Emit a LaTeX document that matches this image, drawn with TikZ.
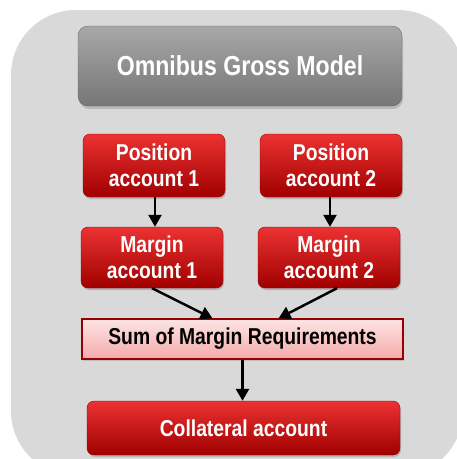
\documentclass[tikz,border=0pt]{standalone}
\usepackage{fontspec}
\setmainfont{Liberation Sans}
\newfontfamily\narrowsans[FakeStretch=0.84]{Liberation Sans}
\usetikzlibrary{calc,arrows.meta,shadows}

\definecolor{bggray}{RGB}{217,217,217}
\definecolor{graytop}{RGB}{168,168,168}
\definecolor{graybot}{RGB}{118,118,118}
\definecolor{redtop}{RGB}{236,50,50}
\definecolor{redmid}{RGB}{206,0,8}
\definecolor{redbot}{RGB}{160,0,0}
\definecolor{rededge}{RGB}{150,0,0}
\definecolor{pinktop}{RGB}{253,228,228}
\definecolor{pinkbot}{RGB}{244,170,170}

\begin{document}
\begin{tikzpicture}[
    x=1pt,y=-1pt,
    headbox/.style={draw=graybot!90!black,rounded corners=10pt,top color=graytop,bottom color=graybot,
      text=white,font=\narrowsans\bfseries\fontsize{27.5}{30}\selectfont,inner sep=0pt,
      minimum width=324pt,minimum height=80pt,
      drop shadow={shadow xshift=1pt,shadow yshift=-3pt,opacity=0.35}},
    redbox/.style={draw=rededge,rounded corners=7pt,top color=redtop,middle color=redmid,bottom color=redbot,
      text=white,font=\narrowsans\bfseries\fontsize{23}{26.5}\selectfont,align=center,inner sep=0pt,
      minimum width=142pt,minimum height=62pt,
      drop shadow={shadow xshift=1pt,shadow yshift=-2pt,opacity=0.4}},
    sumbox/.style={draw=rededge,line width=1.2pt,top color=pinktop,bottom color=pinkbot,
      text=black,font=\narrowsans\bfseries\fontsize{23}{26}\selectfont,inner sep=0pt,
      minimum width=321pt,minimum height=40pt,
      drop shadow={shadow xshift=1pt,shadow yshift=-2pt,opacity=0.3}},
    flow/.style={line width=2.5pt,-{Triangle[width=13pt,length=12pt]}},
  ]

  \useasboundingbox (0,0) rectangle (457,459);
  \clip (0,0) rectangle (457,459);

  % background panel
  \fill[bggray,rounded corners=65pt] (11,10) rectangle (463,476);

  % title
  \node (omni) at (240,66) [headbox] {Omnibus Gross Model};

  % accounts
  \node (pos1) at (154,165.5) [redbox,minimum height=63pt] {Position\\account 1};
  \node (pos2) at (331,165.5) [redbox,minimum height=63pt] {Position\\account 2};
  \node (mar1) at (152,257.5) [redbox,minimum height=61pt] {Margin\\account 1};
  \node (mar2) at (329,257.5) [redbox,minimum height=61pt] {Margin\\account 2};

  \node (sum) at (242.5,339) [sumbox] {Sum of Margin Requirements};

  \node (coll) at (243.5,428) [redbox,minimum width=313pt,minimum height=54pt] {Collateral account};

  % arrows
  \draw[flow] ($(pos1.south) + (1,0)$) -- ($(mar1.north) + (3,0)$);
  \draw[flow] ($(pos2.south) + (-1,0)$) -- ($(mar2.north) + (1,0)$);

  \draw[flow] (mar1.south) -- ($(sum.north) + (-30,0)$);
  \draw[flow] ($(mar2.south) + (8,0)$) -- ($(sum.north) + (36,0)$);

  \draw[flow] (sum.south) -- ($(coll.north) + (-1,0)$);

\end{tikzpicture}
\end{document}
